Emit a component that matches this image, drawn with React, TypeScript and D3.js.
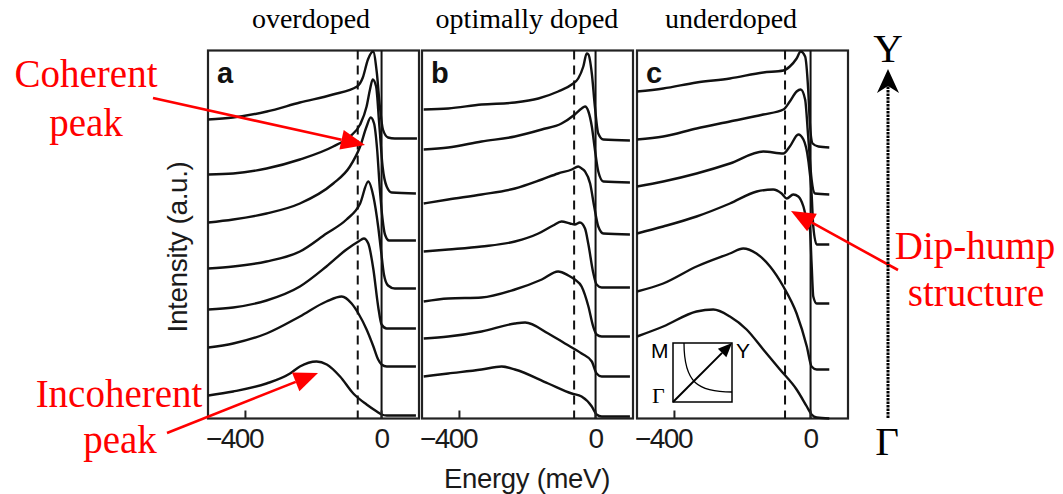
import React from 'react';
import * as d3 from 'd3';

type Pt = [number, number];

// ---------- data (energy in meV, intensity in a.u., curves offset vertically as in the figure) ----------
const dopingTitles = ['overdoped', 'optimally doped', 'underdoped'];
const panelLetters = ['a', 'b', 'c'];
const energyTicks = [-400, 0];
const dipEnergies = [-70, -63, -75];

const overdopedCurves: Pt[][] = [
  [[-510, 29.9], [-437, 30.1], [-337, 30.7], [-240, 31.6], [-143, 32.4], [-72, 33.2], [-55, 34.1], [-40, 35.9], [-25, 36.7], [-14, 34.6], [-5, 31.2], [4, 28.9], [19, 28.1], [39, 28.0], [104, 28.0]],
  [[-509, 24.4], [-436, 24.5], [-338, 25.0], [-240, 25.9], [-142, 27.2], [-93, 28.2], [-63, 29.4], [-44, 31.2], [-34, 32.9], [-26, 33.9], [-16, 33.2], [-7, 29.5], [3, 25.2], [15, 23.2], [30, 22.6], [101, 22.5]],
  [[-509, 19.6], [-436, 19.9], [-338, 20.5], [-240, 21.5], [-142, 23.5], [-93, 25.2], [-63, 27.2], [-44, 29.2], [-32, 30.1], [-22, 29.5], [-13, 26.9], [-5, 22.9], [3, 19.9], [10, 18.4], [22, 17.8], [101, 17.8]],
  [[-509, 15.0], [-436, 15.2], [-338, 15.7], [-240, 16.7], [-162, 18.5], [-103, 19.9], [-63, 21.5], [-39, 23.7], [-24, 22.2], [-10, 19.2], [-2, 16.9], [7, 14.4], [19, 13.3], [39, 13.0], [101, 13.0]],
  [[-509, 10.9], [-436, 11.1], [-338, 11.8], [-240, 13.2], [-162, 15.2], [-103, 16.9], [-68, 17.7], [-52, 18.0], [-39, 17.5], [-24, 14.9], [-10, 11.2], [0, 9.4], [15, 9.0], [101, 9.0]],
  [[-509, 7.1], [-436, 7.5], [-338, 8.5], [-240, 10.2], [-162, 11.7], [-117, 12.2], [-88, 11.5], [-68, 10.5], [-44, 8.9], [-24, 7.2], [-10, 5.9], [0, 5.4], [15, 5.2], [101, 5.2]],
  [[-509, 2.3], [-436, 2.7], [-338, 3.5], [-269, 4.5], [-240, 5.2], [-191, 5.7], [-161, 5.4], [-122, 4.2], [-83, 2.5], [-44, 1.4], [-14, 0.7], [0, 0.4], [15, 0.3], [101, 0.3]],
];

const optimalCurves: Pt[][] = [
  [[-505, 30.9], [-433, 31.0], [-335, 31.4], [-237, 31.6], [-168, 32.0], [-110, 32.7], [-70, 33.4], [-51, 34.0], [-36, 35.2], [-26, 36.5], [-21, 36.4], [-11, 34.5], [-2, 31.2], [8, 28.5], [23, 27.9], [101, 27.8]],
  [[-505, 26.9], [-433, 27.1], [-335, 27.7], [-237, 28.2], [-158, 28.9], [-100, 29.5], [-61, 30.4], [-41, 31.0], [-31, 31.2], [-21, 30.7], [-11, 29.2], [-2, 26.9], [8, 24.7], [23, 23.7], [101, 23.6]],
  [[-505, 21.5], [-433, 21.9], [-335, 22.4], [-237, 23.0], [-158, 23.9], [-110, 24.5], [-70, 24.9], [-51, 25.2], [-41, 25.0], [-31, 24.7], [-16, 23.5], [-4, 21.2], [8, 19.2], [23, 18.5], [101, 18.4]],
  [[-505, 16.7], [-433, 16.9], [-335, 17.2], [-237, 17.7], [-168, 18.5], [-125, 19.3], [-100, 19.7], [-75, 19.5], [-61, 19.4], [-46, 19.6], [-31, 19.0], [-21, 17.4], [-7, 14.6], [3, 13.4], [18, 13.1], [101, 13.1]],
  [[-505, 11.7], [-433, 12.0], [-335, 12.1], [-237, 12.9], [-158, 13.9], [-110, 14.7], [-80, 14.3], [-61, 13.9], [-41, 13.2], [-21, 11.2], [-7, 9.2], [3, 8.4], [18, 8.2], [101, 8.2]],
  [[-505, 8.0], [-433, 8.2], [-335, 8.7], [-237, 9.5], [-207, 9.6], [-139, 8.5], [-90, 7.5], [-41, 6.5], [-11, 5.7], [3, 4.5], [18, 4.2], [101, 4.2]],
  [[-505, 4.2], [-433, 4.5], [-335, 4.9], [-276, 5.2], [-237, 4.9], [-139, 3.5], [-70, 2.5], [-41, 2.2], [-11, 1.2], [3, 0.4], [18, 0.2], [101, 0.2]],
];

const underdopedCurves: Pt[][] = [
  [[-510, 32.7], [-433, 33.0], [-335, 33.6], [-237, 34.0], [-139, 34.6], [-80, 34.8], [-61, 35.2], [-41, 36.0], [-29, 36.7], [-16, 36.2], [-7, 32.9], [-2, 29.5], [6, 27.5], [23, 27.2], [55, 27.1]],
  [[-510, 27.9], [-433, 28.2], [-335, 29.0], [-237, 29.7], [-139, 30.4], [-80, 30.9], [-61, 31.7], [-41, 32.7], [-29, 32.9], [-16, 31.9], [-7, 28.2], [3, 23.9], [13, 22.5], [55, 22.4]],
  [[-510, 23.2], [-433, 23.7], [-335, 24.5], [-237, 25.5], [-139, 26.7], [-80, 26.5], [-61, 27.2], [-36, 28.4], [-21, 27.9], [-7, 25.9], [3, 22.5], [8, 19.2], [18, 17.4], [55, 17.4]],
  [[-510, 18.5], [-433, 19.2], [-335, 20.2], [-237, 21.5], [-158, 22.7], [-110, 22.9], [-85, 22.5], [-70, 22.0], [-51, 22.4], [-36, 22.2], [-21, 21.2], [-7, 19.2], [-2, 18.9], [3, 15.5], [8, 12.2], [18, 11.5], [55, 11.5]],
  [[-510, 12.7], [-433, 13.5], [-335, 15.2], [-237, 16.5], [-198, 17.0], [-159, 16.5], [-119, 15.2], [-80, 13.2], [-41, 10.5], [-11, 7.2], [3, 5.2], [18, 4.9], [55, 4.9]],
  [[-510, 8.2], [-433, 9.2], [-335, 10.7], [-286, 10.9], [-237, 10.2], [-188, 8.9], [-139, 6.9], [-90, 4.9], [-41, 2.9], [-11, 1.2], [3, 0.4], [18, 0.1], [55, 0.0]],
];

const panelCurves = [overdopedCurves, optimalCurves, underdopedCurves];

// ---------- layout ----------
const W = 1063;
const H = 494;
const panelLeft = [208, 422, 637];
const panelW = 211;
const plotTop = 50.5;
const plotBottom = 418.5;
const titleX = [311, 527, 731];
const energyDomain: [number, number] = [-510, 110];
const intensityDomain: [number, number] = [0, 36.8];

const SANS = "'Liberation Sans', Arial, Helvetica, sans-serif";
const SERIF = "'Liberation Serif', 'Times New Roman', Times, serif";
const RED = '#ff0000';

function headPoints(x1: number, y1: number, x2: number, y2: number, len: number, half: number) {
  const a = Math.atan2(y2 - y1, x2 - x1);
  const bx = x2 - len * Math.cos(a);
  const by = y2 - len * Math.sin(a);
  const px = -Math.sin(a);
  const py = Math.cos(a);
  return {
    pts: `${x2},${y2} ${bx + px * half},${by + py * half} ${bx - px * half},${by - py * half}`,
    bx,
    by,
  };
}

function Arrow({ x1, y1, x2, y2, color, width, len, half }: any) {
  const h = headPoints(x1, y1, x2, y2, len, half);
  return (
    <g>
      <line x1={x1} y1={y1} x2={h.bx} y2={h.by} stroke={color} strokeWidth={width} />
      <polygon points={h.pts} fill={color} />
    </g>
  );
}

function Panel({ idx }: { idx: number }) {
  const left = panelLeft[idx];
  const x = d3.scaleLinear().domain(energyDomain).range([left, left + panelW]);
  const y = d3.scaleLinear().domain(intensityDomain).range([plotBottom, plotTop]);
  const line = d3
    .line<Pt>()
    .x((d) => x(d[0]))
    .y((d) => y(d[1]))
    .curve(d3.curveMonotoneX);
  const curves = panelCurves[idx];
  const fmt = (v: number) => (v < 0 ? '\u2212' + Math.abs(v) : String(v));
  return (
    <g>
      <text x={titleX[idx]} y={28} textAnchor="middle" fontFamily={SERIF} fontSize={28} fill="#000">
        {dopingTitles[idx]}
      </text>
      <rect x={left} y={plotTop} width={panelW} height={plotBottom - plotTop} fill="#fff" stroke="#222" strokeWidth={2.2} />
      <line x1={x(dipEnergies[idx])} x2={x(dipEnergies[idx])} y1={plotTop} y2={plotBottom} stroke="#111" strokeWidth={2} strokeDasharray="9,6" />
      <line x1={x(0)} x2={x(0)} y1={plotTop} y2={plotBottom} stroke="#111" strokeWidth={2} />
      {curves.map((c, i) => (
        <path key={i} d={line(c) || ''} fill="none" stroke="#111" strokeWidth={2.4} strokeLinejoin="round" />
      ))}
      {energyTicks.map((t) => (
        <g key={t}>
          <line x1={x(t)} x2={x(t)} y1={plotBottom} y2={plotBottom - 8} stroke="#222" strokeWidth={2} />
          <text
            x={x(t)}
            dx={t < 0 ? -11 : 0}
            y={448}
            textAnchor="middle"
            fontFamily={SANS}
            fontSize={28}
            fill="#1a1a1a"
            letterSpacing={-1.5}
          >
            {fmt(t)}
          </text>
        </g>
      ))}
      <text x={left + 9} y={83} fontFamily={SANS} fontWeight="bold" fontSize={29} fill="#111">
        {panelLetters[idx]}
      </text>
    </g>
  );
}

export default function App() {
  // inset geometry (Brillouin-zone sketch in panel c)
  const ix = 673;
  const iy = 343;
  const is = 59;
  return (
    <svg width={W} height={H} viewBox={`0 0 ${W} ${H}`} style={{ position: 'absolute', left: 0, top: 0, background: '#fff' }}>
      <rect x={0} y={0} width={W} height={H} fill="#fff" />
      {[0, 1, 2].map((i) => (
        <Panel key={i} idx={i} />
      ))}

      {/* axis titles */}
      <text transform="translate(187,247) rotate(-90)" textAnchor="middle" fontFamily={SANS} fontSize={28} fill="#1a1a1a" letterSpacing={-0.4}>
        Intensity (a.u.)
      </text>
      <text x={527} y={488} textAnchor="middle" fontFamily={SANS} fontSize={27.5} fill="#1a1a1a" letterSpacing={-0.3}>
        Energy (meV)
      </text>

      {/* inset */}
      <g>
        <rect x={ix} y={iy} width={is} height={is} fill="#fff" stroke="#000" strokeWidth={1.5} />
        <path d={`M${ix + 11},${iy} C${ix + 11},${iy + 40} ${ix + 25},${iy + 49} ${ix + is},${iy + 49}`} fill="none" stroke="#000" strokeWidth={1.3} />
        <Arrow x1={ix} y1={iy + is} x2={ix + is} y2={iy} color="#000" width={2} len={14} half={6} />
        <text x={ix - 22} y={iy + 15} fontFamily={SANS} fontSize={21} fill="#000">M</text>
        <text x={ix + is + 4} y={iy + 15} fontFamily={SANS} fontSize={21} fill="#000">Y</text>
        <text x={ix - 21} y={iy + is + 1} fontFamily={SERIF} fontSize={22} fill="#000">Γ</text>
      </g>

      {/* red annotations */}
      <text x={86} y={87} textAnchor="middle" fontFamily={SERIF} fontSize={39} fill={RED}>Coherent</text>
      <text x={86} y={136} textAnchor="middle" fontFamily={SERIF} fontSize={39} fill={RED}>peak</text>
      <text x={119} y={407} textAnchor="middle" fontFamily={SERIF} fontSize={39} fill={RED}>Incoherent</text>
      <text x={120} y={453} textAnchor="middle" fontFamily={SERIF} fontSize={39} fill={RED}>peak</text>
      <text x={975} y={259} textAnchor="middle" fontFamily={SERIF} fontSize={39} fill={RED}>Dip-hump</text>
      <text x={976} y={306} textAnchor="middle" fontFamily={SERIF} fontSize={39} fill={RED}>structure</text>
      <Arrow x1={153} y1={98} x2={365} y2={145} color={RED} width={2.6} len={24} half={10} />
      <Arrow x1={167} y1={433} x2={318} y2={373} color={RED} width={2.6} len={24} half={10} />
      <Arrow x1={898} y1={270} x2={791} y2={211} color={RED} width={2.6} len={24} half={10} />

      {/* Γ -> Y direction */}
      <line x1={888} y1={418} x2={888} y2={86} stroke="#000" strokeWidth={3} strokeDasharray="2.5,1" />
      <polygon points="888,69 877,93 888,86 899,93" fill="#000" />
      <text x={888} y={62} textAnchor="middle" fontFamily={SERIF} fontSize={41} fill="#000">Y</text>
      <text x={887} y={455} textAnchor="middle" fontFamily={SERIF} fontSize={41} fill="#000">Γ</text>
    </svg>
  );
}
